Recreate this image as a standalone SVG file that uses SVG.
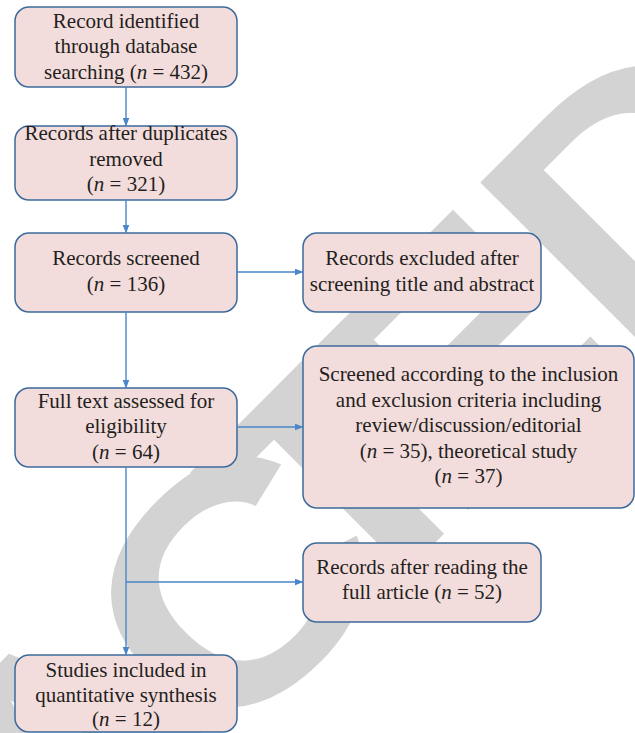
<svg xmlns="http://www.w3.org/2000/svg" width="635" height="733" viewBox="0 0 635 733">
<style>
.box{fill:#f3dcdc;stroke:#3d6a9c;stroke-width:1.5}
.t{font-family:"Liberation Serif","Times New Roman",serif;font-size:21px;fill:#231f20;text-anchor:middle}
.c{stroke:#4a86c8;stroke-width:1.4;fill:none;marker-end:url(#ah)}
.wm{font-family:"Liberation Sans",Arial,sans-serif;font-weight:bold;font-size:324px;fill:#d3d3d3}
</style>
<defs>
<marker id="ah" markerUnits="userSpaceOnUse" markerWidth="9" markerHeight="8" refX="8.5" refY="3.5" orient="auto">
<path d="M0,0 L9,3.5 L0,7 z" fill="#4a86c8"/>
</marker>
</defs>
<rect width="635" height="733" fill="#ffffff"/>
<g id="watermark" transform="rotate(-45) scale(1.15,1)">
<text class="wm" x="-1300 -1110 -920 -760 -541 -335 -177.5 -47.4 161.5" y="691.5">RETRACTED</text>
</g>
<g id="n1"><rect class="box" x="15" y="7" width="222" height="80" rx="14"/>
<text class="t" x="126" y="27.5">Record identified</text>
<text class="t" x="126" y="53">through database</text>
<text class="t" x="126" y="78.5">searching (<tspan font-style="italic">n</tspan> = 432)</text></g>
<g id="n2"><rect class="box" x="15" y="126" width="222" height="74" rx="14"/>
<text class="t" x="126" y="140">Records after duplicates</text>
<text class="t" x="126" y="165.5">removed</text>
<text class="t" x="126" y="191">(<tspan font-style="italic">n</tspan> = 321)</text></g>
<g id="n3"><rect class="box" x="15" y="233" width="222" height="79" rx="14"/>
<text class="t" x="126" y="265">Records screened</text>
<text class="t" x="126" y="290.5">(<tspan font-style="italic">n</tspan> = 136)</text></g>
<g id="n4"><rect class="box" x="303" y="233" width="238" height="79" rx="14"/>
<text class="t" x="422" y="265">Records excluded after</text>
<text class="t" x="422" y="290.5">screening title and abstract</text></g>
<g id="n5"><rect class="box" x="15" y="388" width="222" height="79" rx="14"/>
<text class="t" x="126" y="407.5">Full text assessed for</text>
<text class="t" x="126" y="433">eligibility</text>
<text class="t" x="126" y="458.5">(<tspan font-style="italic">n</tspan> = 64)</text></g>
<g id="n6"><rect class="box" x="303" y="346" width="331" height="162" rx="14"/>
<text class="t" x="468.5" y="381">Screened according to the inclusion</text>
<text class="t" x="468.5" y="406.5">and exclusion criteria including</text>
<text class="t" x="468.5" y="432">review/discussion/editorial</text>
<text class="t" x="468.5" y="457.5">(<tspan font-style="italic">n</tspan> = 35), theoretical study</text>
<text class="t" x="468.5" y="483">(<tspan font-style="italic">n</tspan> = 37)</text></g>
<g id="n7"><rect class="box" x="303" y="543" width="238" height="79" rx="14"/>
<text class="t" x="422" y="573.5">Records after reading the</text>
<text class="t" x="422" y="599">full article (<tspan font-style="italic">n</tspan> = 52)</text></g>
<g id="n8"><rect class="box" x="15" y="655" width="222" height="77" rx="14"/>
<text class="t" x="126" y="676.5">Studies included in</text>
<text class="t" x="126" y="701.5">quantitative synthesis</text>
<text class="t" x="126" y="725.5">(<tspan font-style="italic">n</tspan> = 12)</text></g>
<g id="connectors">
<path class="c" d="M126,87 V126"/>
<path class="c" d="M126,200 V233"/>
<path class="c" d="M237,272 H303"/>
<path class="c" d="M126,312 V388"/>
<path class="c" d="M237,427 H303"/>
<path class="c" d="M126,467 V655"/>
<path class="c" d="M126,582 H303"/>
</g>
</svg>
